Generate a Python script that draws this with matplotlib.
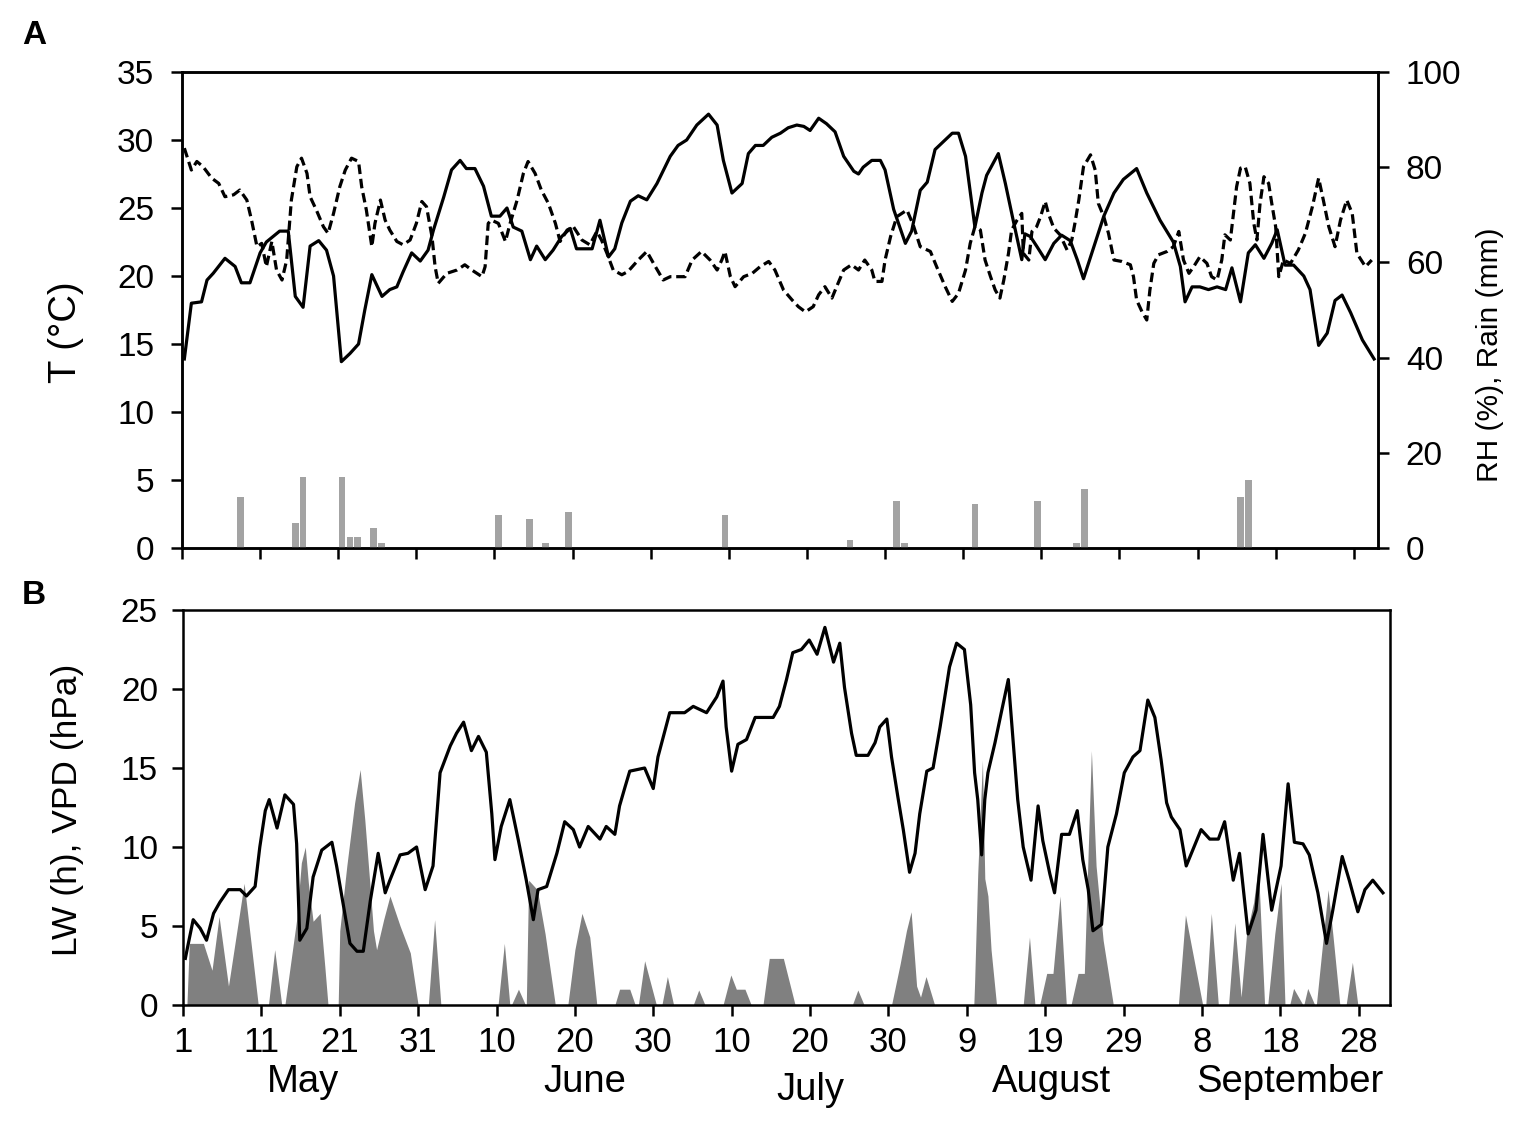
import matplotlib.pyplot as plt

plt.rcParams['font.family'] = ['Liberation Sans', 'DejaVu Sans']

# panel A: temperature (solid), RH (dashed), rain (bars)
t_day = [1.3, 2.2, 3.5, 4.2, 5.0, 6.5, 7.8, 8.6, 9.7, 11.0, 11.8, 13.5, 14.6, 15.5, 16.5, 17.4, 18.5, 19.5, 20.4,
         21.4, 22.5, 23.6, 24.4, 25.3, 26.6, 27.6, 28.5, 29.3, 30.4, 31.5, 32.5, 33.2, 34.5, 35.5, 36.6, 37.4, 38.5,
         39.6, 40.6, 41.7, 42.6, 43.4, 44.5, 45.6, 46.4, 47.5, 48.5, 49.6, 50.7, 51.5, 53.5, 54.5, 55.6, 56.4, 57.3,
         58.4, 59.4, 60.5, 61.8, 63.5, 64.5, 65.6, 66.9, 68.4, 69.5, 70.3, 71.4, 72.7, 73.5, 74.4, 75.4, 76.5, 77.6,
         78.6, 79.7, 80.6, 81.4, 82.5, 83.5, 84.6, 85.7, 87.0, 87.6, 88.2, 89.3, 90.4, 91.0, 92.1, 93.6, 94.4, 95.5,
         96.4, 97.4, 98.5, 99.6, 100.4, 101.3, 102.5, 103.4, 104.0, 105.5, 106.4, 107.4, 108.5, 108.9, 109.6, 110.4,
         111.5, 112.6, 113.6, 114.7, 115.6, 116.4, 117.3, 119.0, 120.3, 121.5, 123.2, 124.5, 126.2, 127.9, 128.8,
         129.4, 130.3, 131.3, 132.4, 133.5, 134.6, 135.4, 136.5, 137.5, 138.4, 139.5, 140.5, 141.2, 142.2, 143.3,
         144.6, 145.4, 146.5, 147.6, 148.6, 149.5, 150.6, 152.1, 153.6]
t_val = [13.9, 18.0, 18.1, 19.7, 20.2, 21.3, 20.7, 19.5, 19.5, 21.7, 22.5, 23.3, 23.3, 18.5, 17.7, 22.2, 22.6, 21.9, 20.0,
         13.7, 14.3, 15.0, 17.5, 20.1, 18.5, 19.0, 19.2, 20.3, 21.7, 21.1, 21.9, 23.4, 25.8, 27.8, 28.5, 27.9, 27.9,
         26.6, 24.4, 24.4, 25.0, 23.6, 23.3, 21.2, 22.2, 21.2, 21.9, 22.9, 23.5, 22.0, 22.0, 24.1, 21.4, 22.0, 23.9,
         25.5, 25.9, 25.6, 26.8, 28.8, 29.6, 30.0, 31.1, 31.9, 31.1, 28.5, 26.1, 26.8, 29.0, 29.6, 29.6, 30.2, 30.5,
         30.9, 31.1, 31.0, 30.7, 31.6, 31.2, 30.6, 28.8, 27.7, 27.5, 28.0, 28.5, 28.5, 27.8, 24.9, 22.4, 23.3, 26.3,
         26.9, 29.3, 29.9, 30.5, 30.5, 28.8, 23.6, 26.1, 27.4, 29.0, 26.8, 24.1, 21.2, 23.1, 22.9, 22.2,
         21.2, 22.4, 23.0, 22.6, 21.2, 19.8, 21.4, 24.4, 26.1, 27.1, 27.9, 26.1, 24.1, 22.5, 20.7,
         18.1, 19.2, 19.2, 19.0, 19.2, 19.0, 20.6, 18.1, 21.7, 22.3, 21.3, 22.4, 23.4, 20.8, 20.8,
         20.0, 19.0, 14.9, 15.8, 18.2, 18.6, 17.3, 15.3, 13.9]

rh_day = [1.3, 2.2, 2.9, 3.7, 4.8, 5.7, 6.5, 7.6, 8.4, 9.3, 9.9, 10.6, 11.2, 11.8, 12.5, 13.1, 13.8, 14.4, 15.0, 15.7,
          16.3, 17.0, 17.4, 18.2, 19.1, 19.7, 20.4, 21.2, 21.9, 22.7, 23.6, 24.0, 24.6, 25.3, 25.7, 26.4, 27.0, 27.6,
          28.5, 29.3, 30.2, 31.0, 31.7, 32.3, 33.0, 33.4, 33.8, 34.9, 36.2, 37.2, 38.1, 39.4, 39.8, 40.2, 40.6, 41.5,
          42.4, 43.0, 43.9, 44.7, 45.3, 46.2, 47.0, 47.9, 48.8, 49.4, 50.3, 51.1, 52.2, 53.2, 54.1, 54.7, 55.4, 56.2,
          57.3, 58.1, 59.4, 60.5, 61.6, 62.6, 63.5, 65.4, 66.3, 67.5, 68.6, 69.5, 70.1, 70.5, 71.2, 71.8, 72.9, 74.0,
          75.0, 76.1, 76.9, 78.0, 79.1, 79.9, 80.8, 81.8, 82.5, 83.3, 84.2, 84.8, 85.7, 86.7, 87.6, 88.4, 89.3, 89.7,
          90.6, 91.0, 91.7, 92.5, 93.8, 94.6, 95.5, 96.8, 97.6, 98.7, 99.6, 100.4, 101.3, 101.9, 102.5, 103.2, 103.8,
          104.5, 105.1, 105.7, 106.2, 106.8, 107.2, 107.9, 108.5, 108.7, 109.4, 109.8, 110.4, 110.9, 111.5, 111.9,
          112.6, 113.4, 114.3, 114.9, 115.3, 115.8, 116.4, 117.3, 117.9, 118.3, 119.0, 119.6, 120.3, 121.3, 122.4,
          122.8, 123.2, 123.9, 124.5, 124.9, 125.4, 126.0, 127.1, 127.9, 128.6, 129.2, 129.9, 130.5, 131.3, 132.2,
          132.8, 133.5, 134.1, 134.5, 135.2, 135.6, 136.0, 136.5, 137.1, 137.7, 138.2, 138.6, 139.0, 139.5, 140.1,
          140.5, 141.0, 141.4, 142.0, 142.9, 143.9, 144.8, 145.7, 146.5, 147.1, 147.8, 148.6, 149.3, 150.1, 150.8,
          151.4, 152.5, 153.3]
rh_val = [84.0, 79.4, 81.2, 80.1, 77.7, 76.6, 73.8, 74.2, 75.2, 73.1, 68.9, 63.3, 64.0, 59.1, 64.4, 58.4, 56.3, 60.5,
          73.1, 80.1, 81.9, 78.7, 73.8, 71.0, 67.5, 66.1, 70.3, 75.9, 79.4, 81.9, 81.2, 75.9, 71.0, 63.3, 68.2, 73.1,
          68.9, 66.8, 64.4, 63.7, 64.7, 68.2, 72.8, 71.7, 65.4, 59.1, 55.6, 57.7, 58.4, 59.5, 58.4, 57.0, 59.1, 68.2,
          68.9, 68.2, 64.4, 68.2, 73.1, 78.7, 81.2, 78.7, 75.2, 72.4, 68.2, 64.4, 66.8, 67.5, 64.7, 63.7, 66.5, 64.7,
          61.9, 58.4, 57.4, 58.1, 60.5, 62.3, 59.1, 56.3, 57.0, 57.0, 60.5, 62.3, 60.5, 58.4, 60.5, 62.3, 57.0, 54.9,
          57.0, 57.7, 59.1, 60.2, 58.4, 54.2, 52.1, 50.7, 49.6, 50.7, 53.2, 54.9, 52.5, 54.9, 58.4, 59.5, 58.4, 60.5,
          58.4, 56.0, 56.0, 60.5, 65.4, 69.6, 71.0, 67.9, 63.3, 62.3, 59.1, 54.9, 51.8, 53.5, 58.4, 64.0, 67.5, 66.8,
          60.5, 57.0, 54.2, 52.5, 56.3, 61.9, 66.8, 68.9, 70.3, 61.9, 60.5, 66.5, 67.5, 69.6, 72.8, 70.3, 67.2, 65.8,
          62.6, 64.7, 68.2, 73.1, 80.1, 82.6, 79.4, 72.4, 69.6, 66.1, 60.5, 60.2, 59.5, 57.0, 52.1, 49.6, 47.9, 54.2,
          59.8, 61.6, 62.3, 63.3, 66.5, 60.5, 57.7, 59.1, 61.2, 59.8, 57.0, 56.3, 60.5, 65.8, 64.7, 70.3, 75.9, 79.8,
          80.1, 76.6, 68.2, 64.7, 72.4, 78.0, 76.6, 72.4, 67.5, 57.0, 60.5, 59.8, 62.6, 66.1, 71.7, 77.7, 73.1, 67.5,
          63.3, 68.9, 73.1, 70.3, 61.9, 59.1, 60.5]

rain_day = [8, 15, 16, 21, 22, 23, 25, 26, 41, 45, 47, 50, 70, 86, 92, 93, 102, 110, 115, 116, 136, 137]
rain_mm = [10.8, 5.2, 15.0, 15.0, 2.4, 2.4, 4.1, 1.0, 6.9, 6.0, 1.0, 7.6, 6.9, 1.7, 9.9, 1.0, 9.2, 9.9, 1.0, 12.3,
           10.8, 14.3]

# panel B: VPD (line), leaf wetness (area)
vpd_day = [1.3, 1.6, 2.3, 3.2, 4.0, 4.9, 5.7, 6.8, 8.3, 9.1, 10.2, 10.8, 11.5, 12.0, 13.0, 14.0, 15.1, 15.5, 15.9,
           16.8, 17.6, 18.7, 20.0, 20.6, 21.5, 22.3, 23.2, 24.0, 24.9, 25.9, 26.8, 27.4, 28.7, 29.7, 30.8, 31.9, 32.9,
           33.8, 35.1, 35.9, 36.8, 37.8, 38.7, 39.7, 40.4, 40.8, 41.6, 42.7, 43.8, 44.8, 45.7, 46.3, 47.4, 48.7, 49.7,
           50.8, 51.6, 52.7, 54.2, 55.0, 56.1, 56.7, 57.4, 58.0, 59.9, 61.0, 61.6, 62.3, 63.1, 65.0, 66.1, 67.8, 69.1,
           69.9, 70.3, 71.0, 71.8, 72.9, 74.0, 76.3, 77.1, 78.0, 78.8, 79.9, 80.9, 81.9, 82.9, 84.0, 84.8, 85.4, 86.3,
           86.9, 88.4, 89.3, 89.9, 90.8, 91.4, 92.2, 92.9, 93.7, 94.4, 95.0, 95.9, 96.7, 97.6, 98.8, 99.7, 100.7,
           101.5, 102.0, 102.4, 102.9, 103.3, 103.7, 104.6, 105.4, 106.3, 106.9, 107.5, 108.2, 109.2, 110.1, 110.7,
           111.6, 112.2, 113.1, 114.1, 115.1, 115.8, 116.5, 117.1, 118.2, 119.0, 120.1, 121.1, 122.2, 123.1, 124.1,
           125.0, 125.8, 126.5, 127.1, 128.2, 129.0, 130.9, 132.0, 133.1, 133.9, 135.0, 135.8, 136.9, 137.9, 138.8,
           139.9, 141.1, 142.0, 142.8, 143.9, 144.7, 145.8, 146.9, 147.7, 148.9, 149.8, 150.9, 151.8, 152.8, 154.1]
vpd_val = [2.95, 3.7, 5.4, 4.85, 4.1, 5.8, 6.5, 7.3, 7.3, 6.9, 7.5, 10.0, 12.3, 13.0, 11.2, 13.3, 12.7, 10.2, 4.1,
           4.85, 8.1, 9.8, 10.3, 8.8, 6.2, 3.9, 3.4, 3.4, 6.6, 9.6, 7.1, 7.9, 9.5, 9.6, 10.0, 7.3, 8.8,
           14.7, 16.4, 17.2, 17.9, 16.1, 17.0, 16.0, 12.1, 9.2, 11.3, 13.0, 10.4, 7.9, 5.4, 7.3, 7.5, 9.6, 11.6,
           11.1, 10.0, 11.3, 10.5, 11.3, 10.8, 12.6, 13.8, 14.8, 15.0, 13.7, 15.7, 17.0, 18.5, 18.5, 18.9, 18.5, 19.5,
           20.5, 17.6, 14.8, 16.5, 16.8, 18.2, 18.2, 18.9, 20.6, 22.3, 22.5, 23.1, 22.2, 23.9, 21.7, 22.9, 20.1, 17.2,
           15.8, 15.8, 16.6, 17.6, 18.1, 15.7, 13.2, 11.1, 8.4, 9.6, 12.1, 14.8, 15.0, 17.6, 21.4, 22.9, 22.5,
           19.0, 14.7, 13.0, 9.5, 13.0, 14.7, 16.6, 18.5, 20.6, 16.8, 13.0, 10.0, 7.9, 12.6, 10.4,
           8.3, 7.1, 10.8, 10.8, 12.3, 9.2, 7.3, 4.7, 5.1, 10.0, 12.1, 14.7, 15.7, 16.1, 19.3,
           18.2, 15.5, 12.8, 11.9, 11.1, 8.8, 11.1, 10.5, 10.5, 11.6, 7.9, 9.6, 4.5, 6.0, 10.8,
           6.0, 8.8, 14.0, 10.3, 10.2, 9.5, 7.1, 3.9, 6.0, 9.4, 7.9, 5.9, 7.3, 7.9, 7.1]

lw_day = [1.5, 1.8, 3.6, 4.7, 5.6, 6.8, 8.8, 10.6, 11.9, 12.7, 13.6, 14.0, 15.5, 16.1, 16.6, 17.0, 17.6, 18.5, 19.1,
          19.5, 20.8, 21.0, 21.9, 22.9, 23.6, 24.2, 24.9, 25.3, 25.7, 26.6, 27.4, 28.7, 30.0, 31.0, 32.3, 33.1, 33.9,
          41.2, 42.0, 42.7, 42.9, 43.8, 44.7, 44.8, 45.1, 46.2, 47.2, 48.5, 50.1, 51.0, 51.9, 52.9, 53.8, 56.1, 56.7,
          58.0, 58.7, 59.1, 59.9, 61.4, 62.1, 62.8, 63.6, 66.1, 66.8, 67.6, 69.9, 70.9, 71.6, 72.7, 73.5, 75.0, 75.8,
          77.6, 79.1, 86.4, 87.1, 87.9, 91.4, 92.5, 93.3, 93.9, 94.6, 95.1, 95.8, 96.9, 101.9, 102.0, 102.4, 103.0,
          103.3, 103.7, 104.1, 104.8, 108.2, 109.0, 109.7, 110.3, 111.2, 112.0, 112.9, 113.7, 114.3, 115.2, 116.0,
          116.9, 117.5, 118.4, 119.7, 128.0, 128.9, 131.1, 131.5, 132.2, 133.1, 134.4, 135.2, 136.0, 136.7, 137.6,
          138.2, 139.0, 139.4, 140.3, 141.1, 141.6, 142.2, 142.7, 143.9, 144.0, 144.5, 145.4, 145.6, 147.1, 147.7,
          148.6, 149.4, 150.2, 150.9]
lw_val = [0, 3.9, 3.9, 2.2, 5.6, 1.2, 7.7, 0, 0, 3.5, 0, 0, 5.4, 9.0, 10.0, 7.7, 5.3, 5.8, 2.4,
          0, 0, 4.7, 8.8, 12.8, 14.9, 11.7, 7.3, 4.7, 3.5, 5.4, 6.9, 5.0, 3.3, 0, 0, 5.4, 0,
          0, 3.9, 0, 0, 1.0, 0, 0, 7.9, 7.3, 4.5, 0, 0, 3.5, 5.8, 4.3, 0, 0, 1.0,
          1.0, 0, 0, 2.8, 0, 0, 1.8, 0, 0, 0.95, 0, 0, 1.9, 1.0, 1.0, 0, 0, 2.95,
          2.95, 0, 0, 0.95, 0, 0, 2.6, 4.7, 5.9, 1.2, 0.5, 1.8, 0, 0, 1.4, 8.3, 15.5,
          8.0, 6.9, 3.5, 0, 0, 4.3, 0, 0, 2.0, 2.0, 6.9, 0, 0, 2.0, 2.0,
          16.1, 8.8, 4.1, 0, 0, 5.7, 0, 0, 5.8, 0, 0, 5.2, 0.5, 4.5, 6.5,
          8.8, 0, 0, 4.5, 7.7, 0, 0, 1.05, 0, 0, 1.05, 0, 0, 7.3, 4.5,
          0, 0, 2.7, 0]

tick_days = [1, 11, 21, 31, 41, 51, 61, 71, 81, 91, 101, 111, 121, 131, 141, 151]
tick_labels = ['1', '11', '21', '31', '10', '20', '30', '10', '20', '30', '9', '19', '29', '8', '18', '28']
months = ['May', 'June', 'July', 'August', 'September']
month_day = [16.3, 52.3, 81.1, 111.8, 142.2]

fig = plt.figure(figsize=(15.37, 11.37), dpi=100)

# ---- panel A
ax = fig.add_axes([182 / 1537, 1 - 548 / 1137, 1196 / 1537, 476 / 1137])
ax.plot(t_day, t_val, color='black', lw=2.3, zorder=3)
ax.set_xlim(1, 154.1)
ax.set_ylim(0, 35)
ax.set_yticks(range(0, 36, 5))
ax.set_xticks(tick_days)
ax.set_xticklabels([])
ax.tick_params(direction='out', length=8, width=1.8, labelsize=24, pad=12)

ax2 = ax.twinx()
ax2.bar([d + 0.5 for d in rain_day], rain_mm, width=0.85, color='#a3a3a3', zorder=1)
ax2.plot(rh_day, rh_val, color='black', lw=2.3, dashes=(3.0, 1.5), zorder=3)
ax2.set_ylim(0, 100)
ax2.set_yticks(range(0, 101, 20))
ax2.tick_params(direction='out', length=8, width=1.8, labelsize=24, pad=12)

for a in (ax, ax2):
    for s in a.spines.values():
        s.set_linewidth(1.8)

# ---- panel B
axb = fig.add_axes([183 / 1537, 1 - 1005 / 1137, 1207 / 1537, 395 / 1137])
axb.fill_between(lw_day, lw_val, 0, color='#808080', lw=0)
axb.plot(vpd_day, vpd_val, color='black', lw=2.3)
axb.set_xlim(1, 155)
axb.set_ylim(0, 25)
axb.set_yticks(range(0, 26, 5))
axb.set_xticks(tick_days)
axb.set_xticklabels(tick_labels)
axb.tick_params(axis='y', direction='out', length=8, width=1.8, labelsize=24, pad=10)
axb.tick_params(axis='x', direction='out', length=8, width=1.8, labelsize=25, pad=7)
for s in axb.spines.values():
    s.set_linewidth(1.8)

for m, d in zip(months, month_day):
    y = -0.215 if m == 'July' else -0.195
    axb.text(d, y, m, transform=axb.get_xaxis_transform(), ha='center', va='center', fontsize=27.5)

# axis labels and panel letters
fig.text(66 / 1537, 1 - 332 / 1137, 'T (°C)', rotation=90, ha='center', va='center', fontsize=27.5)
fig.text(1490 / 1537, 1 - 355 / 1137, 'RH (%), Rain (mm)', rotation=90, ha='center', va='center', fontsize=21.5)
fig.text(68 / 1537, 1 - 810 / 1137, 'LW (h), VPD (hPa)', rotation=90, ha='center', va='center', fontsize=25.5)
fig.text(22 / 1537, 1 - 35 / 1137, 'A', ha='left', va='center', fontsize=24, fontweight='bold')
fig.text(22 / 1537, 1 - 596 / 1137, 'B', ha='left', va='center', fontsize=24, fontweight='bold')

fig.savefig('out.png', dpi=100)
